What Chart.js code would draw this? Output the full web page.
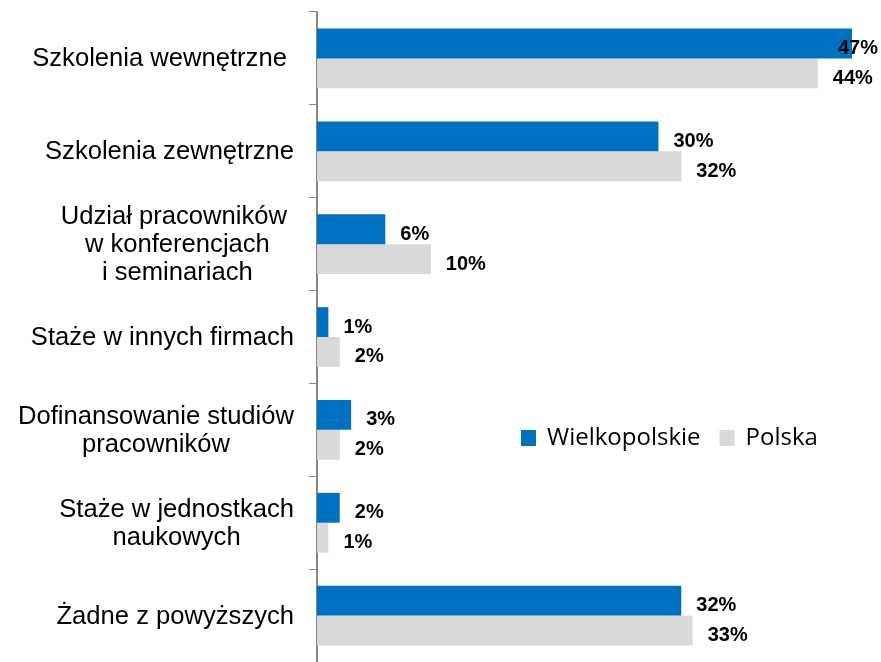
<!DOCTYPE html>
<html>
<head>
<meta charset="utf-8">
<script src="https://cdn.jsdelivr.net/npm/chart.js@4/dist/chart.umd.min.js"></script>
<style>
  html, body { margin: 0; padding: 0; background: #fff; }
  #wrap { width: 881px; height: 662px; position: relative; }
</style>
</head>
<body>
<div id="wrap"><canvas id="chart"></canvas></div>
<script>
const categories = [
    ['Szkolenia wewnętrzne '],
    ['Szkolenia zewnętrzne'],
    ['Udział pracowników ', 'w konferencjach', 'i seminariach'],
    ['Staże w innych firmach'],
    ['Dofinansowanie studiów', 'pracowników'],
    ['Staże w jednostkach', 'naukowych'],
    ['Żadne z powyższych']
];
const seriesNames = ['Wielkopolskie', 'Polska'];
const wielkopolskie = [47, 30, 6, 1, 3, 2, 32];
const polska = [44, 32, 10, 2, 2, 1, 33];
const colors = ['#0070C0', '#D9D9D9'];

const LABEL_FONT = '25.6px "Liberation Sans", Arial, sans-serif';
const VALUE_FONT = 'bold 20px "Liberation Sans", Arial, sans-serif';
const LEGEND_FONT = '24px "Open Sans", sans-serif';

// category names: lines centred inside a block that sits right against the axis
const categoryLabels = {
    id: 'categoryLabels',
    afterDraw(chart) {
        const ctx = chart.ctx;
        const y = chart.scales.y;
        ctx.save();
        ctx.font = LABEL_FONT;
        ctx.fillStyle = '#000';
        ctx.textAlign = 'center';
        ctx.textBaseline = 'middle';
        categories.forEach((lines, i) => {
            const cy = y.getPixelForValue(i) + 1;
            const w = Math.max(...lines.map(l => ctx.measureText(l).width));
            const cx = y.right - 23 - w / 2;
            lines.forEach((line, k) => {
                ctx.fillText(line, cx, cy + (k - (lines.length - 1) / 2) * 28);
            });
        });
        ctx.restore();
    }
};

// value labels at the end of each bar
const valueLabels = {
    id: 'valueLabels',
    afterDatasetsDraw(chart) {
        const ctx = chart.ctx;
        ctx.save();
        ctx.font = VALUE_FONT;
        ctx.fillStyle = '#000';
        ctx.textAlign = 'left';
        ctx.textBaseline = 'middle';
        chart.data.datasets.forEach((ds, d) => {
            chart.getDatasetMeta(d).data.forEach((bar, i) => {
                const txt = ds.data[i] + '%';
                const w = ctx.measureText(txt).width;
                const x = Math.min(bar.x + 15, chart.width - 3 - w);
                ctx.fillText(txt, x, bar.y + 5);
            });
        });
        ctx.restore();
    }
};

// legend placed inside the plot
const innerLegend = {
    id: 'innerLegend',
    afterDraw(chart) {
        const ctx = chart.ctx;
        ctx.save();
        ctx.font = LEGEND_FONT;
        ctx.textBaseline = 'middle';
        ctx.textAlign = 'left';
        let x = 521;
        const cy = 438;
        chart.data.datasets.forEach(ds => {
            ctx.fillStyle = ds.backgroundColor;
            ctx.fillRect(x, cy - 8, 15, 16);
            ctx.fillStyle = '#000';
            ctx.fillText(ds.label, x + 26, cy);
            x += 26 + ctx.measureText(ds.label).width + 19;
        });
        ctx.restore();
    }
};

new Chart(document.getElementById('chart'), {
    type: 'bar',
    data: {
        labels: categories,
        datasets: [
            { label: seriesNames[0], data: wielkopolskie, backgroundColor: colors[0] },
            { label: seriesNames[1], data: polska, backgroundColor: colors[1] }
        ]
    },
    options: {
        indexAxis: 'y',
        responsive: true,
        maintainAspectRatio: false,
        animation: false,
        layout: { padding: { top: 12, right: 29, bottom: -3, left: 0 } },
        datasets: {
            bar: { categoryPercentage: 0.643, barPercentage: 1.0 }
        },
        scales: {
            x: { display: false, min: 0, max: 47 },
            y: {
                afterFit: scale => { scale.width = 317; },
                ticks: { display: false },
                grid: {
                    drawOnChartArea: false,
                    drawTicks: true,
                    tickLength: 8,
                    color: '#868686',
                    lineWidth: 1
                },
                border: { display: true, color: '#868686', width: 2 }
            }
        },
        plugins: {
            legend: { display: false },
            tooltip: { enabled: false }
        }
    },
    plugins: [categoryLabels, valueLabels, innerLegend]
});
</script>
</body>
</html>
